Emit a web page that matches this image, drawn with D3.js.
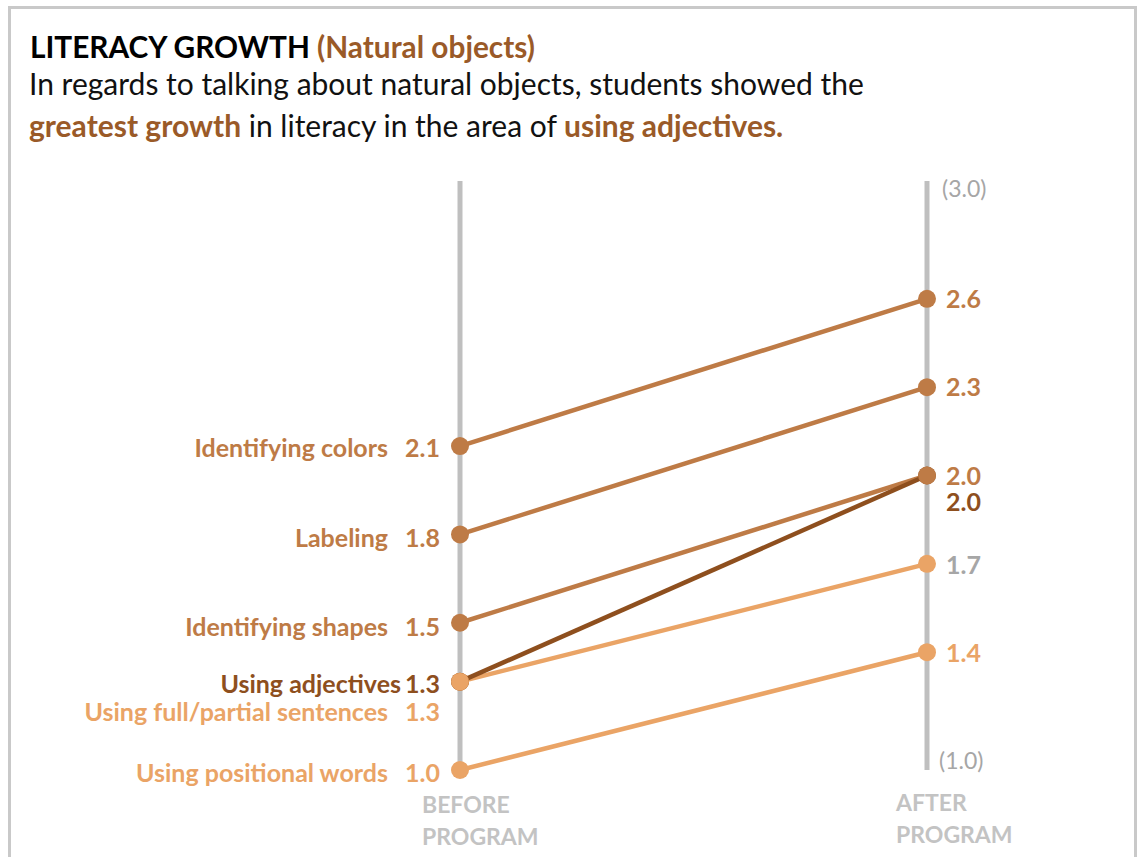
<!DOCTYPE html>
<html><head><meta charset="utf-8">
<script src="https://cdn.jsdelivr.net/npm/d3@7"></script>
<style>
html,body{margin:0;padding:0;background:#fff;}
svg{display:block;font-family:Lato,"Open Sans",sans-serif;}
</style></head>
<body>
<svg id="chart" width="1144" height="857"></svg>
<script>
const categories = ["Identifying colors","Labeling","Identifying shapes","Using adjectives","Using full/partial sentences","Using positional words"];
const beforeValues = [2.1, 1.8, 1.5, 1.3, 1.3, 1.0];
const afterValues = [2.6, 2.3, 2.0, 2.0, 1.7, 1.4];
const seriesColors = ["#BE7B46","#BE7B46","#BE7B46","#8E4F1E","#EAA466","#EAA466"];
const afterLabelColors = ["#BE7B46","#BE7B46","#BE7B46","#8E4F1E","#A6A6A6","#EAA466"];
const axisNames = [["BEFORE","PROGRAM"],["AFTER","PROGRAM"]];
const domainLabels = ["(3.0)","(1.0)"];

const svg = d3.select("#chart");
// frame
svg.append("rect").attr("x",9.5).attr("y",7.5).attr("width",1126).attr("height",870)
  .attr("fill","none").attr("stroke","#C9C9C9").attr("stroke-width",3);

// title
const t = svg.append("text").attr("x",30).attr("y",58).attr("font-size",29.8).attr("font-weight","bold");
t.append("tspan").attr("fill","#000").text("LITERACY GROWTH ");
t.append("tspan").attr("fill","#9A5A28").text("(Natural objects)");
svg.append("text").attr("x",29).attr("y",95).attr("font-size",30).attr("fill","#111")
  .text("In regards to talking about natural objects, students showed the");
const s2 = svg.append("text").attr("x",29).attr("y",137).attr("font-size",30).attr("fill","#111");
s2.append("tspan").attr("font-weight","bold").attr("fill","#9A5A28").text("greatest growth");
s2.append("tspan").text(" in literacy in the area of ");
s2.append("tspan").attr("font-weight","bold").attr("fill","#9A5A28").text("using adjectives.");

const x = d3.scalePoint().domain(["before","after"]).range([460,927]);
const y = d3.scaleLinear().domain([1,3]).range([770,181]);

// axes
["before","after"].forEach((k,i)=>{
  svg.append("line").attr("x1",x(k)).attr("x2",x(k)).attr("y1",y(3)).attr("y2",y(1)+(i===0?3:0))
    .attr("stroke","#BFBFBF").attr("stroke-width",5);
  const tx = svg.append("text").attr("font-size",23).attr("font-weight","bold").attr("fill","#C3C3C3");
  tx.append("tspan").attr("x",x(k)-(i===0?38:31)).attr("y",i===0?813:811).text(axisNames[i][0]);
  tx.append("tspan").attr("x",x(k)-(i===0?38:31)).attr("y",i===0?845:843).text(axisNames[i][1]);
});
svg.append("text").attr("x",942).attr("y",y(3)+16).attr("font-size",23).attr("fill","#A6A6A6").text(domainLabels[0]);
svg.append("text").attr("x",939).attr("y",y(1)-1).attr("font-size",23).attr("fill","#A6A6A6").text(domainLabels[1]);

const data = categories.map((c,i)=>({c,b:beforeValues[i],a:afterValues[i],col:seriesColors[i],acol:afterLabelColors[i],i}));
const order = [0,1,2,4,5,3];
order.forEach(i=>{
  const d = data[i];
  svg.append("line").attr("x1",x("before")).attr("y1",y(d.b)).attr("x2",x("after")).attr("y2",y(d.a))
    .attr("stroke",d.col).attr("stroke-width",4.5);
});
order.forEach(i=>{
  const d = data[i];
  svg.append("circle").attr("cx",x("before")).attr("cy",y(d.b)).attr("r",9).attr("fill",d.col);
});
[5,4,3,2,1,0].forEach(i=>{
  const d = data[i];
  svg.append("circle").attr("cx",x("after")).attr("cy",y(d.a)).attr("r",9).attr("fill",d.col);
});
// light circle on top at before 1.3
svg.append("circle").attr("cx",x("before")).attr("cy",y(data[4].b)).attr("r",9).attr("fill",data[4].col);

// left labels
const leftDy = [2,4,4,2,30,3];
data.forEach((d,i)=>{
  const yy = y(d.b)+leftDy[i]+9;
  svg.append("text").attr("x",i===3?401:388).attr("y",yy).attr("text-anchor","end")
    .attr("font-size",25).attr("font-weight","bold").attr("fill",d.col).text(d.c);
  svg.append("text").attr("x",440).attr("y",yy).attr("text-anchor","end")
    .attr("font-size",25).attr("font-weight","bold").attr("fill",d.col).text(d3.format(".1f")(d.b));
});
// right labels
const rightDy = [0,0,0,26,1,1];
data.forEach((d,i)=>{
  svg.append("text").attr("x",946).attr("y",y(d.a)+rightDy[i]+9).attr("font-size",25)
    .attr("font-weight","bold").attr("fill",d.acol).text(d3.format(".1f")(d.a));
});
</script>
</body></html>
